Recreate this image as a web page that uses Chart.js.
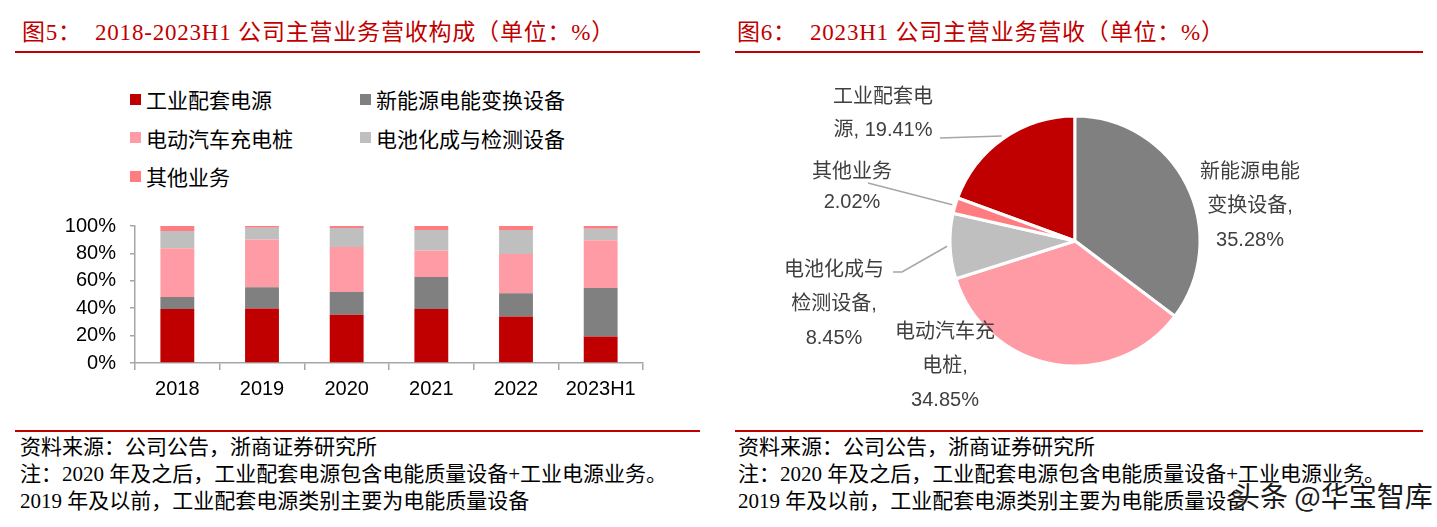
<!DOCTYPE html>
<html>
<head>
<meta charset="utf-8">
<script src="https://cdn.jsdelivr.net/npm/chart.js@4.4.0/dist/chart.umd.min.js"></script>
<style>
  html, body { margin: 0; padding: 0; background: #fff; }
  body { width: 1437px; height: 527px; position: relative; overflow: hidden; }
  .title { position: absolute; top: 13px; font: 23px 'Liberation Serif', 'Noto Sans CJK SC', serif; letter-spacing: 0.8px; color: #C00000; white-space: pre; }
  .rule { position: absolute; height: 2px; background: #C00000; }
  .note { position: absolute; font: 21px/27px 'Liberation Serif', 'Noto Sans CJK SC', serif; color: #000; white-space: pre; }
  #legend { position: absolute; left: 130px; top: 80px; display: grid; grid-template-columns: 230px 230px; grid-auto-rows: 38.5px; font: 21px 'Liberation Sans', 'Noto Sans CJK SC', sans-serif; color: #000; }
  #legend div { display: flex; align-items: center; white-space: nowrap; }
  #legend span { display: inline-block; width: 11px; height: 11px; margin-right: 5px; }
  canvas { position: absolute; }
  .mark { position: absolute; left: 1232px; top: 475px; white-space: nowrap; font: 28px 'Noto Sans CJK SC', sans-serif; color: #1a1a1a; text-shadow: 0 0 2px #fff, 0 0 2px #fff; }
</style>
</head>
<body>
<div class="title" style="left:22px">图5：  2018-2023H1 公司主营业务营收构成（单位：%）</div>
<div class="rule" style="left:15px; width:685px; top:51px"></div>
<div class="title" style="left:737px">图6：  2023H1 公司主营业务营收（单位：%）</div>
<div class="rule" style="left:735px; width:688px; top:51px"></div>

<div id="legend"></div>
<div style="position:absolute; left:0; top:200px; width:700px; height:220px"><canvas id="barChart"></canvas></div>
<div style="position:absolute; left:720px; top:60px; width:717px; height:370px"><canvas id="pieChart"></canvas></div>

<div class="rule" style="left:15px; width:685px; top:430px"></div>
<div class="note" style="left:20px; top:434px">资料来源：公司公告，浙商证券研究所
注：2020 年及之后，工业配套电源包含电能质量设备+工业电源业务。
2019 年及以前，工业配套电源类别主要为电能质量设备</div>
<div class="rule" style="left:735px; width:688px; top:430px"></div>
<div class="note" style="left:738px; top:434px">资料来源：公司公告，浙商证券研究所
注：2020 年及之后，工业配套电源包含电能质量设备+工业电源业务。
2019 年及以前，工业配套电源类别主要为电能质量设备</div>
<div class="mark">头条 @华宝智库</div>

<script>
// data
const years = ['2018', '2019', '2020', '2021', '2022', '2023H1'];
const seriesNames = ['工业配套电源', '新能源电能变换设备', '电动汽车充电桩', '电池化成与检测设备', '其他业务'];
const industrialPower = [39.4, 39.7, 35.3, 39.4, 33.9, 19.41];
const newEnergyConv = [8.7, 15.6, 16.6, 23.3, 17.1, 35.28];
const evCharging = [35.6, 34.8, 32.7, 19.5, 28.6, 34.85];
const batteryTest = [12.7, 8.7, 14.0, 14.9, 17.5, 8.45];
const otherBiz = [3.6, 1.2, 1.4, 2.9, 2.9, 2.02];
const yTicks = [0, 20, 40, 60, 80, 100];

const pieLabels = ['工业配套电源', '新能源电能变换设备', '电动汽车充电桩', '电池化成与检测设备', '其他业务'];
const pieValues = [19.41, 35.28, 34.85, 8.45, 2.02];

const colors = ['#C00000', '#808080', '#FF9BA5', '#BFBFBF', '#FF7C80'];
const seriesData = [industrialPower, newEnergyConv, evCharging, batteryTest, otherBiz];

// legend (two columns like the report)
const legendEl = document.getElementById('legend');
seriesNames.forEach((name, i) => {
    const d = document.createElement('div');
    d.innerHTML = '<span style="background:' + colors[i] + '"></span>' + name;
    legendEl.appendChild(d);
});

const axisGray = '#A6A6A6';
const sansFont = "'Liberation Sans', 'Noto Sans CJK SC', sans-serif";

new Chart(document.getElementById('barChart'), {
    type: 'bar',
    data: {
        labels: years,
        datasets: seriesNames.map((name, i) => ({
            label: name,
            data: seriesData[i],
            backgroundColor: colors[i],
            borderWidth: 0,
            barPercentage: 0.4,
            categoryPercentage: 1
        }))
    },
    options: {
        responsive: true,
        maintainAspectRatio: false,
        animation: false,
        layout: { padding: { left: 0, right: 57, top: 25, bottom: 0 } },
        plugins: { legend: { display: false }, tooltip: { enabled: false } },
        scales: {
            x: {
                stacked: true,
                grid: { display: true, drawOnChartArea: false, offset: true, tickLength: 7, color: axisGray, lineWidth: 1.5 },
                border: { display: true, color: axisGray, width: 1.5 },
                ticks: { color: '#000', font: { family: sansFont, size: 20 }, padding: 7 },
                afterFit: s => { s.height = 57; }
            },
            y: {
                stacked: true,
                min: 0,
                max: 100,
                afterBuildTicks: s => { s.ticks = yTicks.map(v => ({ value: v })); },
                grid: { display: true, drawOnChartArea: false, tickLength: 5, color: axisGray, lineWidth: 1.5 },
                border: { display: true, color: axisGray, width: 1.5 },
                ticks: { color: '#000', font: { family: sansFont, size: 20 }, padding: 14, callback: v => v + '%' },
                afterFit: s => { s.width = 135; }
            }
        }
    }
});

// label layout for the pie, relative to the pie centre
const pieLayout = [
    { dx: -192, dy: -144, gap: 33, breaks: [5], inline: true, comma: true, from: [[-135, -103]] },
    { dx: 175, dy: -69, gap: 34, breaks: [5], inline: false, comma: true, from: null },
    { dx: -130, dy: 91, gap: 34, breaks: [5], inline: false, comma: true, from: null },
    { dx: -241, dy: 29, gap: 34, breaks: [5], inline: false, comma: true, from: [[-182, 31], [-173, 31]] },
    { dx: -223, dy: -69, gap: 30, breaks: [], inline: false, comma: false, from: [[-207, -58]] }
];

function pieLines(i) {
    const L = pieLayout[i];
    const name = pieLabels[i];
    const parts = [];
    let s = 0;
    L.breaks.forEach(b => { parts.push(name.slice(s, b)); s = b; });
    parts.push(name.slice(s));
    const val = pieValues[i].toFixed(2) + '%';
    if (L.inline) parts[parts.length - 1] += ', ' + val;
    else { if (L.comma) parts[parts.length - 1] += ','; parts.push(val); }
    return parts;
}

const pieLabelPlugin = {
    id: 'pieLabelPlugin',
    afterDatasetsDraw(chart) {
        const ctx = chart.ctx;
        const arcs = chart.getDatasetMeta(0).data;
        ctx.save();
        arcs.forEach((arc, i) => {
            const L = pieLayout[i];
            const cx = arc.x, cy = arc.y;
            if (L.from) {
                const a = (arc.startAngle + arc.endAngle) / 2;
                const r = arc.outerRadius + 3;
                ctx.beginPath();
                ctx.strokeStyle = '#A6A6A6';
                ctx.lineWidth = 1.5;
                L.from.forEach((p, k) => {
                    if (k === 0) ctx.moveTo(cx + p[0], cy + p[1]);
                    else ctx.lineTo(cx + p[0], cy + p[1]);
                });
                ctx.lineTo(cx + Math.cos(a) * r, cy + Math.sin(a) * r);
                ctx.stroke();
            }
            ctx.fillStyle = '#404040';
            ctx.font = '20px ' + sansFont;
            ctx.textAlign = 'center';
            ctx.textBaseline = 'middle';
            pieLines(i).forEach((t, k) => ctx.fillText(t, cx + L.dx, cy + L.dy + k * L.gap));
        });
        ctx.restore();
    }
};

new Chart(document.getElementById('pieChart'), {
    type: 'pie',
    data: {
        labels: pieLabels,
        datasets: [{
            data: pieValues,
            backgroundColor: colors,
            borderColor: '#fff',
            borderWidth: 3
        }]
    },
    options: {
        responsive: true,
        maintainAspectRatio: false,
        animation: false,
        radius: 125,
        rotation: -pieValues[0] * 3.6,
        layout: { padding: { left: 231, right: 238, top: 57, bottom: 65 } },
        plugins: { legend: { display: false }, tooltip: { enabled: false } }
    },
    plugins: [pieLabelPlugin]
});
</script>
</body>
</html>
